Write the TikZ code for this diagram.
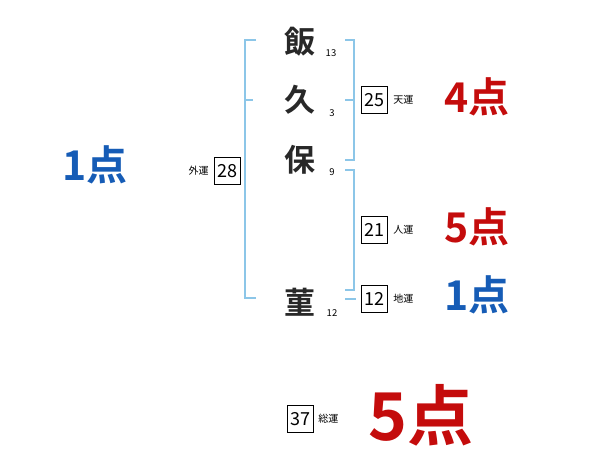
\documentclass[tikz,border=0pt]{standalone}
\usepackage{fontspec}
\setmainfont{Noto Sans CJK JP}[BoldFont={Noto Sans CJK JP Bold}]
\usetikzlibrary{positioning}
\definecolor{bracketblue}{RGB}{140,198,232}
\definecolor{pointred}{RGB}{196,12,12}
\definecolor{pointblue}{RGB}{22,92,182}
\definecolor{kanjigray}{RGB}{40,40,40}

\begin{document}
\begin{tikzpicture}[x=1pt,y=-1pt,
    kanji/.style={text=kanjigray, font=\fontsize{31}{31}\selectfont\bfseries, inner sep=0pt},
    strokes/.style={font=\fontsize{9.5}{9.5}\selectfont, inner sep=0pt},
    unbox/.style={draw, thin, minimum width=26pt, minimum height=27pt, inner sep=0pt,
                  font=\fontsize{18}{18}\selectfont},
    unlabel/.style={font=\fontsize{10}{10}\selectfont, inner sep=1pt},
    bracket/.style={draw=bracketblue, line width=1.2pt},
    redpt/.style={text=pointred, font=\fontsize{41}{41}\selectfont\bfseries, inner sep=0pt},
    bluept/.style={text=pointblue, font=\fontsize{41}{41}\selectfont\bfseries, inner sep=0pt}]
  \useasboundingbox (0,0) rectangle (600,470);

  % Name characters
  \node[kanji] (c1) at (300,42) {飯};
  \node[kanji] (c2) at (300,100) {久};
  \node[kanji] (c3) at (300,160) {保};
  \node[kanji] (c4) at (300,302) {菫};

  % Stroke counts
  \node[strokes] (s1) at (331,53) {13};
  \node[strokes] (s2) at (332,113) {3};
  \node[strokes] (s3) at (332,172) {9};
  \node[strokes] (s4) at (332,313) {12};

  % Brackets
  \coordinate (lt) at (245,40);
  \coordinate (lb) at (245,298);
  \draw[bracket] (256,40) -- (lt) -- (lb) -- (256,298);
  \draw[bracket] (245,100) -- (253,100);
  \draw[bracket] (345,40) -- (354,40) -- (354,160) -- (345,160);
  \draw[bracket] (345,100) -- (354,100);
  \draw[bracket] (345,170) -- (354,170) -- (354,290) -- (345,290);
  \draw[bracket] (345,299) -- (356,299);

  % Fortune boxes
  \node[unbox] (ten) at (374,100) {25};
  \node[unlabel, right=5pt of ten] (tenl) {天運};
  \node[unbox] (jin) at (374,230) {21};
  \node[unlabel, right=5pt of jin] (jinl) {人運};
  \node[unbox] (chi) at (374,299) {12};
  \node[unlabel, right=5pt of chi] (chil) {地運};
  \node[unbox] (gai) at (227,171) {28};
  \node[unlabel, left=4pt of gai] (gail) {外運};
  \node[unbox] (sou) at (300,419) {37};
  \node[unlabel, right=4pt of sou] (soul) {総運};

  % Points
  \node[redpt] (tenp) at (477,97) {4点};
  \node[redpt] (jinp) at (477,227) {5点};
  \node[bluept] (chip) at (477,295) {1点};
  \node[bluept] (gaip) at (95,165) {1点};
  \node[redpt, font=\fontsize{66}{66}\selectfont\bfseries] (soup) at (421,415) {5点};
\end{tikzpicture}
\end{document}
